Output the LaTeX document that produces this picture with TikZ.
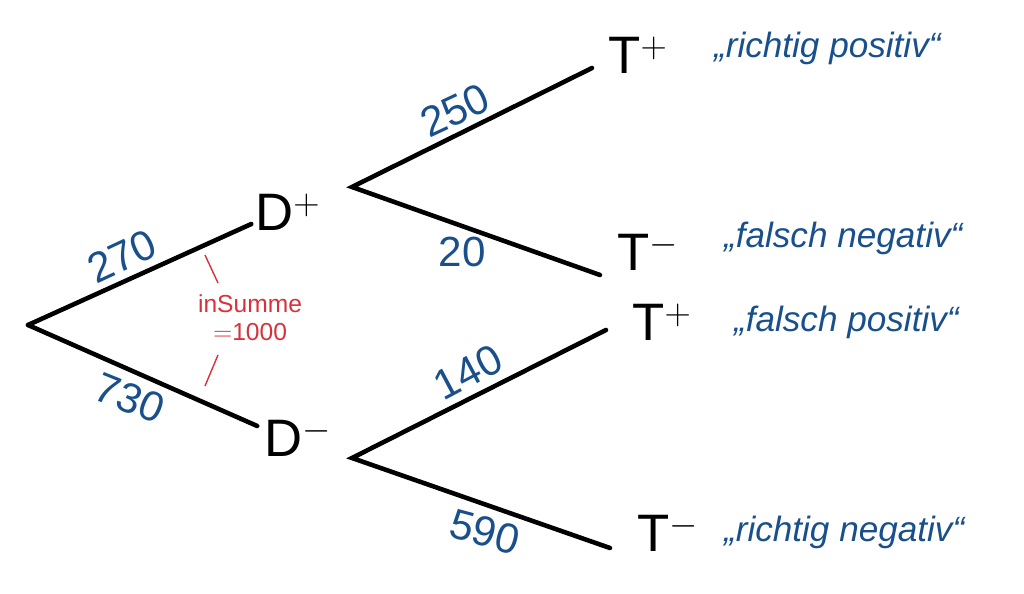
\documentclass[tikz,border=0pt]{standalone}
\usepackage{fontspec}
\setmainfont{Liberation Sans}
\usetikzlibrary{calc}
\definecolor{inkblue}{RGB}{25,80,140}
\definecolor{inkred}{RGB}{215,50,60}
\tikzset{
  branch/.style={line width=2.6pt, line cap=round},
  state/.style={font=\fontsize{30}{30}\selectfont, inner sep=1pt},
  count/.style={font=\fontsize{24}{24}\selectfont, text=inkblue, inner sep=1pt},
  remark/.style={font=\itshape\fontsize{20}{20}\selectfont, text=inkblue, anchor=west, inner sep=1pt},
  sumnote/.style={font=\fontsize{14}{16}\selectfont, text=inkred, align=center}
}
\begin{document}
\begin{tikzpicture}[x=0.02cm, y=-0.02cm]
\useasboundingbox (0,0) rectangle (1024,594);
% tree skeleton
\coordinate (root) at (28,325);
\node (dpos) [state] at (288,212) {D$^{+}$};
\node (dneg) [state] at (298,438) {D$^{-}$};
\coordinate (forkpos) at (352,187);
\coordinate (forkneg) at (352,458);
\node (tpp) [state] at (638,55) {T$^{+}$};
\node (tpm) [state] at (648,252) {T$^{-}$};
\node (tmp) [state] at (662,322) {T$^{+}$};
\node (tmm) [state] at (668,533) {T$^{-}$};
\coordinate (epp) at (592,68);
\coordinate (epm) at (600,275);
\coordinate (emp) at (606,330);
\coordinate (emm) at (610,548);
\draw [branch] (root) -- ($(dpos.west)+(-2,12)$);
\draw [branch] (root) -- ($(dneg.west)+(-5,-12)$);
\draw [branch] (epp) -- (forkpos) -- (epm);
\draw [branch] (emp) -- (forkneg) -- (emm);
% counts
\node (n270) [count, rotate=25] at (122,256) {270};
\node (n730) [count, rotate=-22] at (130,398) {730};
\node (n250) [count, rotate=25] at (455,110) {250};
\node (n20) [count] at (462,252) {20};
\node (n140) [count, rotate=28] at (468,372) {140};
\node (n590) [count, rotate=-15] at (485,532) {590};
% remarks
\node (rp) [remark] at (712,48) {„richtig positiv“};
\node (fn) [remark] at (722,238) {„falsch negativ“};
\node (fp) [remark] at (732,322) {„falsch positiv“};
\node (rn) [remark] at (722,532) {„richtig negativ“};
% sum note
\node (total) [sumnote] at (250,318) {inSumme\\$=$1000};
\draw [inkred, thick] (205,255) -- (218,283);
\draw [inkred, thick] (218,355) -- (205,386);
\end{tikzpicture}
\end{document}
